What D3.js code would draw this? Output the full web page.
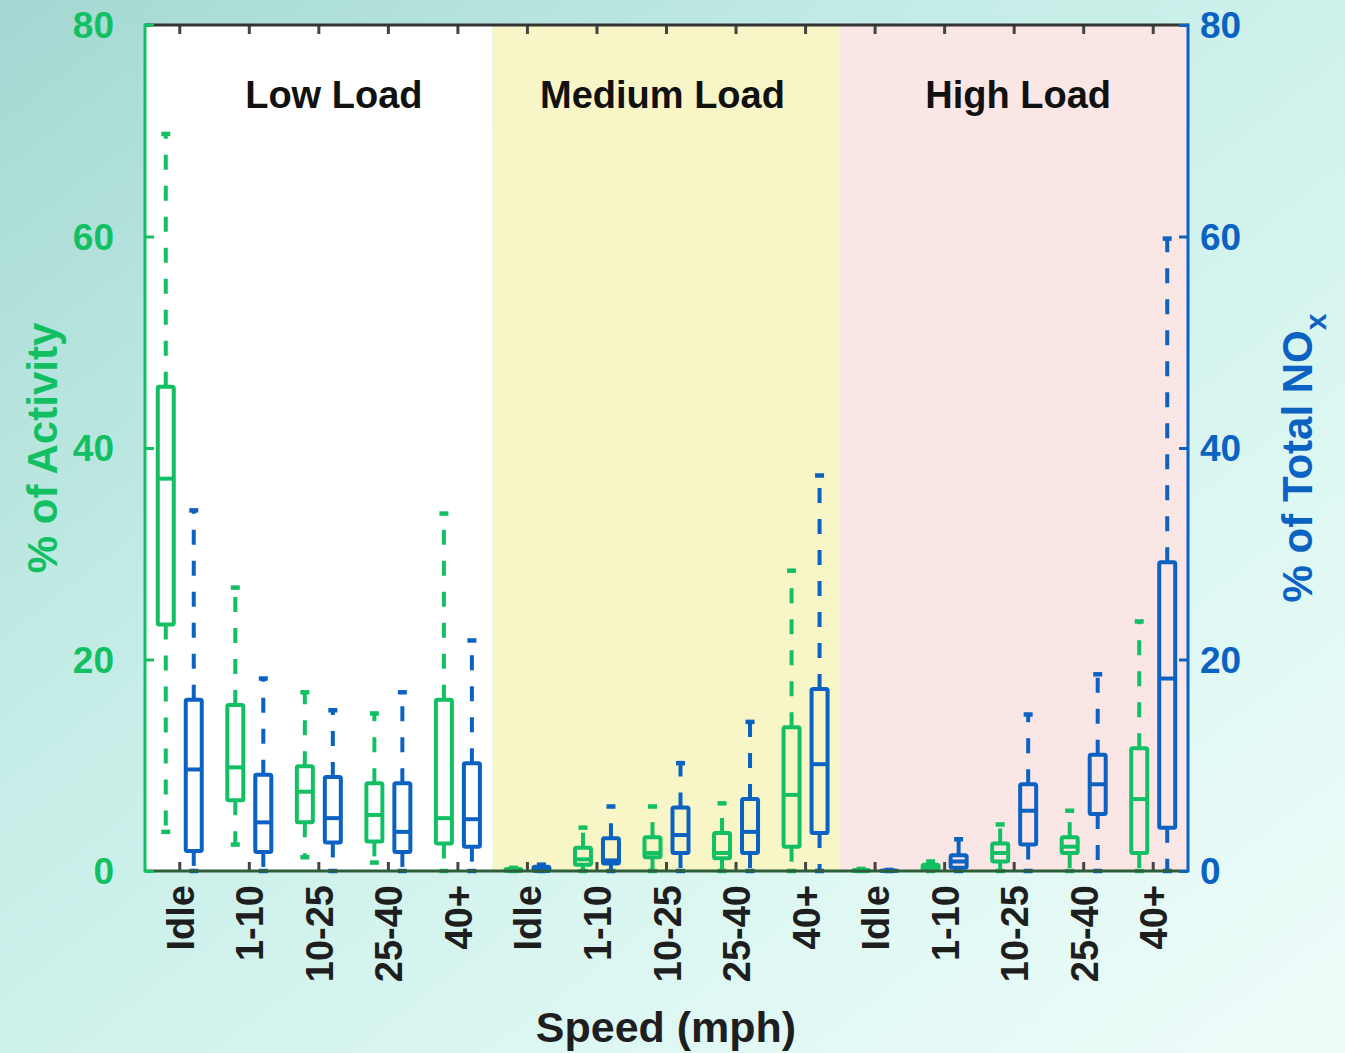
<!DOCTYPE html>
<html>
<head>
<meta charset="utf-8">
<script src="https://cdn.jsdelivr.net/npm/d3@7"></script>
<style>
  html, body { margin: 0; padding: 0; }
  body { width: 1345px; height: 1053px; overflow: hidden; }
  text { font-family: Arial, "Liberation Sans", sans-serif; font-weight: bold; }
</style>
</head>
<body>
<div id="chart"></div>
<script>
var loads = ["Low Load", "Medium Load", "High Load"];
var speeds = ["Idle", "1-10", "10-25", "25-40", "40+"];
var yTicks = [0, 20, 40, 60, 80];

// [lower whisker, q1, median, q3, upper whisker]
var activity = [
  [3.7, 23.3, 37.1, 45.8, 69.7],
  [2.5, 6.7, 9.8, 15.7, 26.8],
  [1.3, 4.6, 7.5, 9.9, 16.9],
  [0.8, 2.8, 5.3, 8.3, 14.9],
  [0, 2.6, 5.0, 16.2, 33.8],
  [0, 0, 0.1, 0.2, 0.3],
  [0, 0.6, 1.1, 2.2, 4.1],
  [0, 1.3, 1.7, 3.2, 6.1],
  [0, 1.2, 1.7, 3.6, 6.4],
  [0, 2.3, 7.2, 13.6, 28.4],
  [0, 0, 0, 0.1, 0.2],
  [0, 0.1, 0.3, 0.6, 0.9],
  [0, 0.9, 1.7, 2.6, 4.4],
  [0, 1.7, 2.3, 3.2, 5.7],
  [0, 1.7, 6.8, 11.6, 23.6]
];
var nox = [
  [0, 1.9, 9.6, 16.2, 34.1],
  [0, 1.8, 4.6, 9.1, 18.2],
  [0, 2.7, 5.0, 8.9, 15.2],
  [0, 1.8, 3.7, 8.3, 16.9],
  [0, 2.3, 4.9, 10.2, 21.8],
  [0, 0, 0.1, 0.4, 0.6],
  [0, 0.7, 1.0, 3.1, 6.1],
  [0, 1.7, 3.4, 6.0, 10.2],
  [0, 1.7, 3.7, 6.8, 14.1],
  [0, 3.6, 10.1, 17.2, 37.4],
  [0, 0, 0, 0.05, 0.1],
  [0, 0.3, 0.9, 1.5, 3.0],
  [0, 2.5, 5.7, 8.2, 14.8],
  [0, 5.4, 8.2, 11.0, 18.6],
  [0, 4.1, 18.2, 29.2, 59.8]
];

var green = "#12c063", blue = "#0b62c2";
var sectionFill = ["#ffffff", "#f8f6c6", "#fbe6e6"];
var titleDx = [15, -4, 4];

var W = 1345, H = 1053;
var plotL = 145, plotR = 1188, plotT = 25, plotB = 871;

var svg = d3.select("#chart").append("svg")
  .attr("width", W).attr("height", H);

var defs = svg.append("defs");
var bg = defs.append("linearGradient").attr("id", "bg")
  .attr("x1", 0).attr("y1", 0).attr("x2", 1).attr("y2", 1);
bg.append("stop").attr("offset", "0%").attr("stop-color", "#a4d8d2");
bg.append("stop").attr("offset", "35%").attr("stop-color", "#c4ece6");
bg.append("stop").attr("offset", "70%").attr("stop-color", "#dcf7f2");
bg.append("stop").attr("offset", "100%").attr("stop-color", "#f0fcfa");
svg.append("rect").attr("width", W).attr("height", H).attr("fill", "url(#bg)");

var keys = [];
loads.forEach(function (l) { speeds.forEach(function (s) { keys.push(l + "|" + s); }); });

var x = d3.scaleBand().domain(keys).range([plotL, plotR]);
var xs = d3.scalePoint().domain(["act", "nox"]).range([-14, 14]);
var y = d3.scaleLinear().domain([0, 80]).range([plotB, plotT]);
var bw = 16, capW = 9;

// section backgrounds
svg.append("g").selectAll("rect").data(loads).join("rect")
  .attr("x", function (d) { return x(d + "|" + speeds[0]); })
  .attr("y", plotT)
  .attr("width", x.step() * speeds.length)
  .attr("height", plotB - plotT)
  .attr("fill", function (d, i) { return sectionFill[i]; });

svg.append("g").selectAll("text").data(loads).join("text")
  .attr("x", function (d, i) { return x(d + "|" + speeds[2]) + x.bandwidth() / 2 + titleDx[i]; })
  .attr("y", 108)
  .attr("text-anchor", "middle")
  .attr("font-size", 38)
  .attr("fill", "#111")
  .text(function (d) { return d; });

// boxes
function drawBoxes(data, key, color) {
  var rows = data.map(function (v, i) { return { k: keys[i], v: v }; });
  var g = svg.append("g").selectAll("g").data(rows).join("g")
    .attr("transform", function (d) { return "translate(" + (x(d.k) + x.bandwidth() / 2 + xs(key)) + ",0)"; })
    .attr("stroke", color).attr("fill", "none").attr("stroke-width", 4);
  g.append("path")
    .attr("d", function (d) { return "M0," + y(d.v[3]) + "V" + y(d.v[4]); })
    .attr("stroke-dasharray", "15,16");
  g.append("path")
    .attr("d", function (d) { return "M0," + y(d.v[1]) + "V" + y(d.v[0]); })
    .attr("stroke-dasharray", "15,16");
  g.append("line").attr("x1", -capW / 2).attr("x2", capW / 2)
    .attr("y1", function (d) { return y(d.v[4]); }).attr("y2", function (d) { return y(d.v[4]); })
    .attr("stroke-width", 4.5);
  g.append("line").attr("x1", -capW / 2).attr("x2", capW / 2)
    .attr("y1", function (d) { return y(d.v[0]); }).attr("y2", function (d) { return y(d.v[0]); })
    .attr("stroke-width", 4.5);
  g.append("rect")
    .attr("x", -bw / 2).attr("width", bw)
    .attr("y", function (d) { return y(d.v[3]); })
    .attr("height", function (d) { return Math.max(0.5, y(d.v[1]) - y(d.v[3])); })
    .attr("rx", 1.5);
  g.append("line").attr("x1", -bw / 2).attr("x2", bw / 2)
    .attr("y1", function (d) { return y(d.v[2]); }).attr("y2", function (d) { return y(d.v[2]); });
}
drawBoxes(activity, "act", green);
drawBoxes(nox, "nox", blue);

// frame
var cx = function (k) { return x(k) + x.bandwidth() / 2; };
svg.append("g").selectAll("line").data(keys).join("line")
  .attr("x1", cx).attr("x2", cx).attr("y1", plotT).attr("y2", plotT + 9)
  .attr("stroke", "#444").attr("stroke-width", 3);
svg.append("g").selectAll("line").data(keys).join("line")
  .attr("x1", cx).attr("x2", cx).attr("y1", plotB).attr("y2", plotB - 9)
  .attr("stroke", "#444").attr("stroke-width", 3);

svg.append("line").attr("x1", plotL).attr("x2", plotR).attr("y1", plotT).attr("y2", plotT)
  .attr("stroke", "#333").attr("stroke-width", 3);
svg.append("line").attr("x1", plotL).attr("x2", plotR).attr("y1", plotB).attr("y2", plotB)
  .attr("stroke", "#2d5e3a").attr("stroke-width", 3);

var yl = svg.append("g").attr("transform", "translate(" + plotL + ",0)")
  .call(d3.axisRight(y).tickValues(yTicks).tickSize(9).tickFormat(""));
yl.select(".domain").remove();
yl.selectAll("line").attr("stroke", green).attr("stroke-width", 3);
svg.append("line").attr("x1", plotL).attr("x2", plotL).attr("y1", plotT - 1.5).attr("y2", plotB + 1.5)
  .attr("stroke", green).attr("stroke-width", 3);

var yr = svg.append("g").attr("transform", "translate(" + plotR + ",0)")
  .call(d3.axisLeft(y).tickValues(yTicks).tickSize(9).tickFormat(""));
yr.select(".domain").remove();
yr.selectAll("line").attr("stroke", blue).attr("stroke-width", 3);
svg.append("line").attr("x1", plotR).attr("x2", plotR).attr("y1", plotT - 1.5).attr("y2", plotB + 1.5)
  .attr("stroke", blue).attr("stroke-width", 3);

// tick labels
svg.append("g").selectAll("text").data(yTicks).join("text")
  .attr("x", 114).attr("y", function (d) { return y(d); }).attr("dy", "0.36em")
  .attr("text-anchor", "end").attr("font-size", 37).attr("fill", green)
  .text(function (d) { return d; });
svg.append("g").selectAll("text").data(yTicks).join("text")
  .attr("x", 1200).attr("y", function (d) { return y(d); }).attr("dy", "0.36em")
  .attr("text-anchor", "start").attr("font-size", 37).attr("fill", blue)
  .text(function (d) { return d; });

svg.append("g").selectAll("text").data(keys).join("text")
  .attr("transform", function (d) { return "translate(" + (cx(d) + 14) + ",885) rotate(-90)"; })
  .attr("text-anchor", "end").attr("font-size", 38).attr("fill", "#1e1e1e")
  .text(function (d) { return d.split("|")[1]; });

// axis titles
svg.append("text")
  .attr("transform", "translate(57,448) rotate(-90)")
  .attr("text-anchor", "middle").attr("font-size", 42).attr("fill", green)
  .text("% of Activity");

var rt = svg.append("text")
  .attr("transform", "translate(1312,458) rotate(-90)")
  .attr("text-anchor", "middle").attr("font-size", 42).attr("fill", blue);
rt.append("tspan").text("% of Total NO");
rt.append("tspan").attr("font-size", 30).attr("dy", 14).text("x");

svg.append("text")
  .attr("x", 666).attr("y", 1042)
  .attr("text-anchor", "middle").attr("font-size", 43).attr("fill", "#1e1e1e")
  .text("Speed (mph)");
</script>
</body>
</html>
